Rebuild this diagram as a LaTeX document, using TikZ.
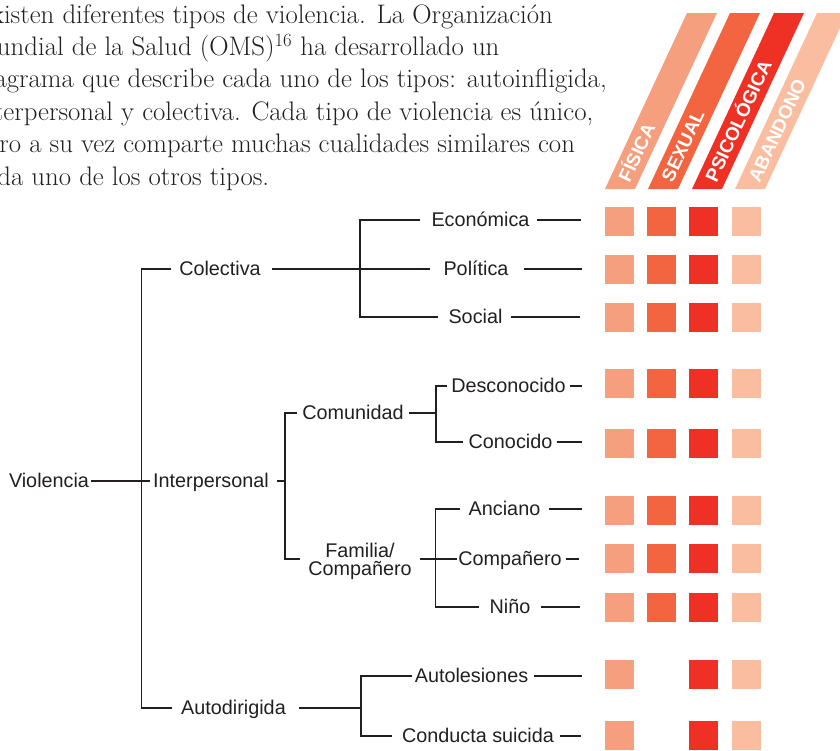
\documentclass[tikz,border=0pt]{standalone}
\usepackage{fontspec}
\newfontfamily\labfont{Liberation Sans}
\usetikzlibrary{calc}
\definecolor{ink}{RGB}{35,31,32}
\definecolor{fis}{RGB}{246,159,126}
\definecolor{sex}{RGB}{242,101,64}
\definecolor{psi}{RGB}{238,49,36}
\definecolor{aba}{RGB}{251,189,160}
\tikzset{
  para/.style={font=\fontsize{26.8}{32}\selectfont, text=ink, inner sep=0pt, anchor=base west},
  lab/.style={font=\labfont\fontsize{19.8}{18}\selectfont, text=ink, inner sep=0pt, text height=13.6pt, text depth=0pt},
  lab2/.style={font=\labfont\fontsize{19.8}{18}\selectfont, text=ink, inner sep=0pt, align=center},
  ln/.style={draw=ink, line width=1.1pt},
  bartext/.style={font=\labfont\bfseries\fontsize{18.8}{18.8}\selectfont, text=white, inner sep=0pt, text height=12.9pt, text depth=0pt, rotate=65, anchor=west}
}
\begin{document}
\begin{tikzpicture}[x=1pt,y=-1pt]
\useasboundingbox (0,0) rectangle (840,750);
\clip (0,0) rectangle (840,750);

% paragraph
\node[para] (p1) at (-26,23) {Existen diferentes tipos de violencia. La Organización};
\node[para] (p2) at (-26,55.4) {Mundial de la Salud (OMS)\textsuperscript{16} ha desarrollado un};
\node[para] (p3) at (-26,87.8) {diagrama que describe cada uno de los tipos: autoinfligida,};
\node[para] (p4) at (-26,120.2) {interpersonal y colectiva. Cada tipo de violencia es único,};
\node[para] (p5) at (-26,152.6) {pero a su vez comparte muchas cualidades similares con};
\node[para] (p6) at (-26,185) {cada uno de los otros tipos.};

% header bars
\fill[fis] (605,189) -- (635,189) -- (717,13) -- (687,13) -- cycle;
\fill[sex] (648,189) -- (678,189) -- (760,13) -- (730,13) -- cycle;
\fill[psi] (692,189) -- (722,189) -- (804,13) -- (774,13) -- cycle;
\fill[aba] (735,189) -- (765,189) -- (847,13) -- (817,13) -- cycle;
\node[bartext] (tf) at ($(620,189)+(3.8,-8.2)$) {FÍSICA};
\node[bartext] (ts) at ($(663,189)+(3.8,-8.2)$) {SEXUAL};
\node[bartext] (tp) at ($(707,189)+(3.8,-8.2)$) {PSICOLÓGICA};
\node[bartext] (ta) at ($(750,189)+(3.8,-8.2)$) {ABANDONO};

% squares
\foreach \y in {207,255,303,369,429,496,544,593,660,721} {
  \fill[fis] (605,\y) rectangle ++(29,29);
  \fill[psi] (689,\y) rectangle ++(29,29);
  \fill[aba] (732,\y) rectangle ++(29,29);
}
\foreach \y in {207,255,303,369,429,496,544,593} {
  \fill[sex] (647,\y) rectangle ++(29,29);
}

% labels
\node[lab] (viol) at (49,481) {Violencia};
\node[lab] (inter) at (211,481) {Interpersonal};
\node[lab] (colec) at (220,269) {Colectiva};
\node[lab] (autod) at (233.5,708) {Autodirigida};
\node[lab] (eco) at (480.5,220) {Económica};
\node[lab] (pol) at (476,269) {Política};
\node[lab] (soc) at (475.5,317) {Social};
\node[lab] (comu) at (353,413) {Comunidad};
\node[lab] (desc) at (508.5,386) {Desconocido};
\node[lab] (cono) at (510.5,442) {Conocido};
\node[lab2] (fam) at (360,561) {Familia/\\Compañero};
\node[lab] (anc) at (504.5,509) {Anciano};
\node[lab] (comp) at (510,559) {Compañero};
\node[lab] (nino) at (510,607) {Niño};
\node[lab] (autol) at (471.5,676) {Autolesiones};
\node[lab] (cs) at (478,736) {Conducta suicida};

% junctions
\coordinate (jm) at (141.5,481);
\coordinate (jc) at (360,269);
\coordinate (ji) at (285,481);
\coordinate (jcm) at (436,413);
\coordinate (jf) at (435.5,559);
\coordinate (ja) at (361,708);
% free ends
\coordinate (e1) at (581,220);
\coordinate (e2) at (582,269);
\coordinate (e3) at (580,317);
\coordinate (e4) at (582,386);
\coordinate (e5) at (582,442);
\coordinate (e6) at (582,509);
\coordinate (e7) at (579,559);
\coordinate (e8) at (580,607);
\coordinate (e9) at (582,676);
\coordinate (e10) at (581,736);

% connectors
\draw[ln] ([xshift=2]viol.east) -- ([xshift=-3]inter.west);
\draw[ln] ([xshift=-8]colec.west) -| (jm) |- ([xshift=-9]autod.west);
\draw[ln] ([xshift=11]colec.east) -- ([xshift=-13]pol.west);
\draw[ln] ([xshift=-11]eco.west) -| (jc) |- ([xshift=-10]soc.west);
\draw[ln] ([xshift=8]inter.east) -- (ji);
\draw[ln] ([xshift=-5]comu.west) -| (ji) |- ([yshift=2,xshift=-8]fam.west);
\draw[ln] ([xshift=5]comu.east) -- (jcm);
\draw[ln] ([xshift=-4]desc.west) -| (jcm) |- ([xshift=-5.5]cono.west);
\draw[ln] ([yshift=2,xshift=8]fam.east) -- ([xshift=-1]comp.west);
\draw[ln] ([xshift=-9]anc.west) -| (jf) |- ([xshift=-10]nino.west);
\draw[ln] ([xshift=13]autod.east) -- (ja);
\draw[ln] ([xshift=-2.5]autol.west) -| (ja) |- ([xshift=-10]cs.west);

\draw[ln] ([xshift=7]eco.east) -- (e1);
\draw[ln] ([xshift=15]pol.east) -- (e2);
\draw[ln] ([xshift=8]soc.east) -- (e3);
\draw[ln] ([xshift=4]desc.east) -- (e4);
\draw[ln] ([xshift=4]cono.east) -- (e5);
\draw[ln] ([xshift=9]anc.east) -- (e6);
\draw[ln] ([xshift=4]comp.east) -- (e7);
\draw[ln] ([xshift=10.5]nino.east) -- (e8);
\draw[ln] ([xshift=5.5]autol.east) -- (e9);
\draw[ln] ([xshift=5.5]cs.east) -- (e10);
\end{tikzpicture}
\end{document}
